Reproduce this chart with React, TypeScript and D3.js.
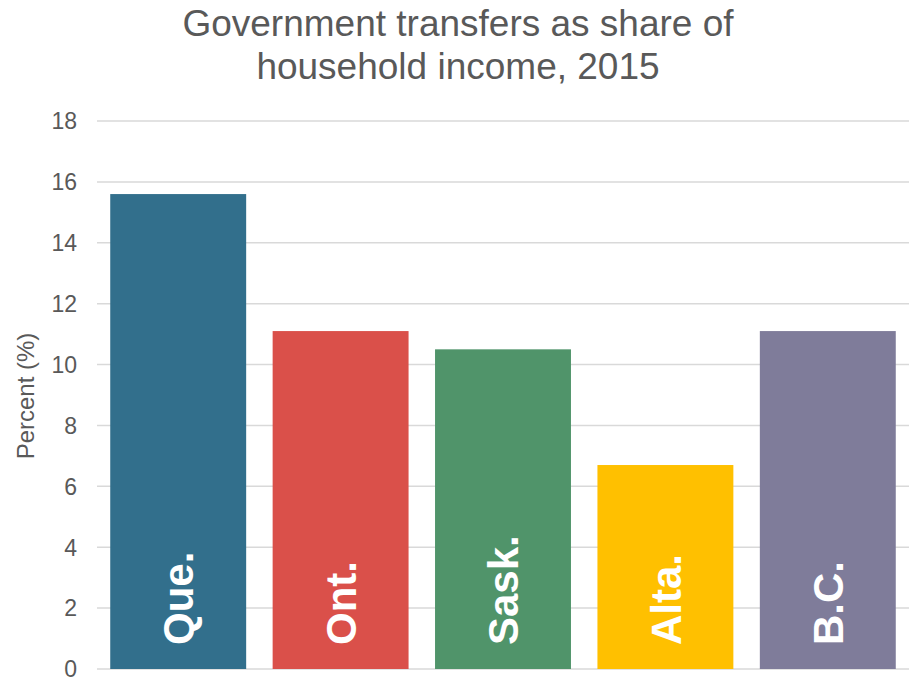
import React from "react";
import * as d3 from "d3";

const categories = ["Que.", "Ont.", "Sask.", "Alta.", "B.C."];
const values = [15.6, 11.1, 10.5, 6.7, 11.1];
const colors = ["#326F8C", "#DA504A", "#50946A", "#FFC000", "#7F7C9A"];
const yTicks = [0, 2, 4, 6, 8, 10, 12, 14, 16, 18];
const titleLines = ["Government transfers as share of", "household income, 2015"];
const yLabel = "Percent (%)";

const W = 915;
const H = 678;
const plot = { left: 97, right: 909, top: 121, bottom: 669 };

export default function App() {
  const x = d3
    .scaleBand<string>()
    .domain(categories)
    .range([plot.left, plot.right])
    .paddingInner(0.163)
    .paddingOuter(0.0815);
  const y = d3.scaleLinear().domain([0, 18]).range([plot.bottom, plot.top]);
  const font = "Arial, 'Liberation Sans', Helvetica, sans-serif";

  return (
    <div>
      <style>{`body{margin:0}`}</style>
      <svg width={W} height={H} style={{ display: "block", fontFamily: font }}>
        <rect width={W} height={H} fill="#ffffff" />
        {titleLines.map((t, i) => (
          <text
            key={t}
            x={458}
            y={36 + i * 43}
            textAnchor="middle"
            fontSize={37}
            fill="#595959"
          >
            {t}
          </text>
        ))}
        {yTicks.map((t) => (
          <g key={t}>
            <line
              x1={plot.left}
              x2={plot.right}
              y1={y(t)}
              y2={y(t)}
              stroke="#D9D9D9"
              strokeWidth={1.5}
            />
            <text
              x={77}
              y={y(t)}
              dy="0.36em"
              textAnchor="end"
              fontSize={23}
              fill="#595959"
            >
              {t}
            </text>
          </g>
        ))}
        <text
          transform={`translate(34, ${(plot.top + plot.bottom) / 2 + 1}) rotate(-90)`}
          textAnchor="middle"
          fontSize={24}
          fill="#595959"
        >
          {yLabel}
        </text>
        {categories.map((c, i) => {
          const bx = x(c)!;
          const cx = bx + x.bandwidth() / 2;
          return (
            <g key={c}>
              <rect
                x={bx}
                y={y(values[i])}
                width={x.bandwidth()}
                height={y(0) - y(values[i])}
                fill={colors[i]}
              />
              <text
                transform={`translate(${cx}, ${plot.bottom - 24}) rotate(-90)`}
                dy="0.36em"
                textAnchor="start"
                fontSize={42}
                fontWeight="bold"
                fill="#ffffff"
              >
                {c}
              </text>
            </g>
          );
        })}
      </svg>
    </div>
  );
}
